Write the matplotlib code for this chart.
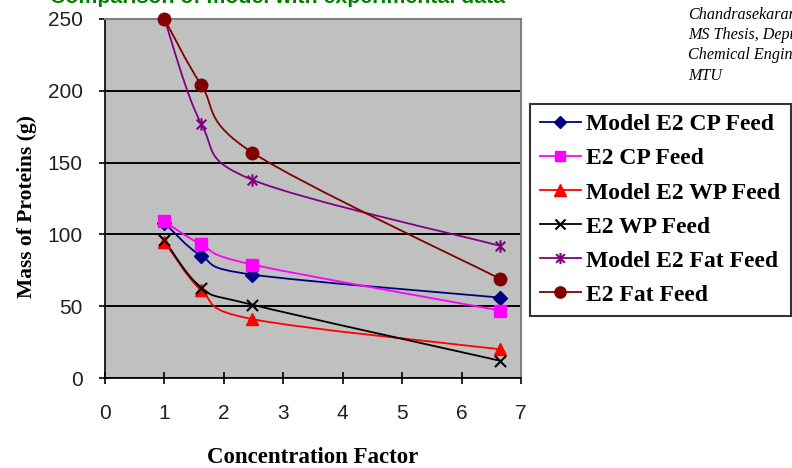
import numpy as np
import matplotlib
matplotlib.use("Agg")
import matplotlib.pyplot as plt
from matplotlib.path import Path
from matplotlib.patches import PathPatch
from matplotlib.lines import Line2D

# ---- data ----
conc = [1.0, 1.62, 2.48, 6.65]
model_cp = [108, 85, 72, 56]
e2_cp = [109, 93, 79, 47]
model_wp = [95, 61, 41, 20]
e2_wp = [96, 63, 51, 12]
model_fat = [250, 177, 138, 92]
e2_fat = [250, 204, 157, 69]

labels = ["Model E2 CP Feed", "E2 CP Feed", "Model E2 WP Feed",
          "E2 WP Feed", "Model E2 Fat Feed", "E2 Fat Feed"]
series = [model_cp, e2_cp, model_wp, e2_wp, model_fat, e2_fat]
colors = ["#000080", "#FF00FF", "#FF0000", "#000000", "#800080", "#800000"]

star = Path([(-1, -1), (1, 1), (-1, 1), (1, -1), (0, -1.3), (0, 1.3)],
            [Path.MOVETO, Path.LINETO, Path.MOVETO, Path.LINETO, Path.MOVETO, Path.LINETO])
xmark = Path([(-1, -1), (1, 1), (-1, 1), (1, -1)],
             [Path.MOVETO, Path.LINETO, Path.MOVETO, Path.LINETO])
markers = ["D", "s", "^", xmark, star, "o"]
msizes = [7, 8, 9, 8, 9, 9]

fig = plt.figure(figsize=(7.92, 4.68), dpi=100)
W, H = 792, 468
ax = fig.add_axes([105 / W, 1 - 378 / H, (521 - 105) / W, (378 - 19) / H])
ax.set_facecolor("#C0C0C0")
ax.set_xlim(0, 7)
ax.set_ylim(0, 250)


def smooth_path(xs, ys):
    pts = np.column_stack([xs, ys]).astype(float)
    n = len(pts)
    verts = [pts[0]]
    codes = [Path.MOVETO]
    for i in range(n - 1):
        p0 = pts[i - 1] if i > 0 else pts[i]
        p1 = pts[i]
        p2 = pts[i + 1]
        p3 = pts[i + 2] if i + 2 < n else pts[i + 1]
        c1 = p1 + (p2 - p0) / 6.0
        c2 = p2 - (p3 - p1) / 6.0
        verts += [c1, c2, p2]
        codes += [Path.CURVE4] * 3
    return Path(verts, codes)


handles = []
for ys, lab, c, m, ms in zip(series, labels, colors, markers, msizes):
    patch = PathPatch(smooth_path(conc, ys), fill=False, edgecolor=c, lw=1.3,
                      transform=ax.transData, zorder=3, clip_on=False)
    ax.add_patch(patch)
    mew = 1.5 if m in (xmark, star) else 1
    ax.plot(conc, ys, linestyle="none", marker=m, color=c, ms=ms, mew=mew,
            zorder=4, clip_on=False)
    handles.append(Line2D([], [], color=c, lw=1.3, marker=m, ms=ms * 0.9, mew=mew))

ax.set_yticks([0, 50, 100, 150, 200, 250])
ax.set_xticks(range(0, 8))
ax.grid(axis="y", color="black", lw=1.4)
ax.set_axisbelow(True)
for s in ["top", "right"]:
    ax.spines[s].set_color("#808080")
    ax.spines[s].set_linewidth(1.5)
for s in ["left", "bottom"]:
    ax.spines[s].set_color("black")
    ax.spines[s].set_linewidth(1.2)
ax.tick_params(axis="both", direction="inout", length=9, width=1.2,
               labelsize=15, colors="black")
ax.tick_params(axis="y", pad=11.5)
ax.tick_params(axis="x", pad=14)
for t in ax.get_xticklabels() + ax.get_yticklabels():
    t.set_fontfamily("Liberation Sans")
    t.set_color("#202020")

ax.set_xlabel("Concentration Factor", family="Liberation Serif", weight="bold", size=16.5)
ax.xaxis.set_label_coords(0.5, (378 - 447) / 359)
ax.set_ylabel("Mass of Proteins (g)", family="Liberation Serif", weight="bold", size=15.5)
ax.yaxis.set_label_coords((37 - 105) / 416, (378 - 207) / 359)

fig.text(50 / W, 1 - 3 / H, "Comparison of model with experimental data",
         color="#008000", family="Liberation Sans", weight="bold", size=15.3,
         ha="left", va="baseline")

fig.text(688 / W, 1 - 7 / H, "Chandrasekaran\nMS Thesis, Dept. of\nChemical Engineering\nMTU",
         family="Liberation Serif", style="italic", size=11.6, ha="left", va="top",
         linespacing=1.35)

leg = fig.legend(handles, labels, loc="upper left",
                 bbox_to_anchor=(530 / W, 1 - 104 / H),
                 prop=dict(family="Liberation Serif", weight="bold", size=17),
                 frameon=True, fancybox=False, edgecolor="black",
                 handlelength=1.72, handletextpad=0.25, labelspacing=0.53,
                 borderpad=0.42, borderaxespad=0)
leg.get_frame().set_linewidth(1.5)

fig.savefig("out.png", dpi=100)
